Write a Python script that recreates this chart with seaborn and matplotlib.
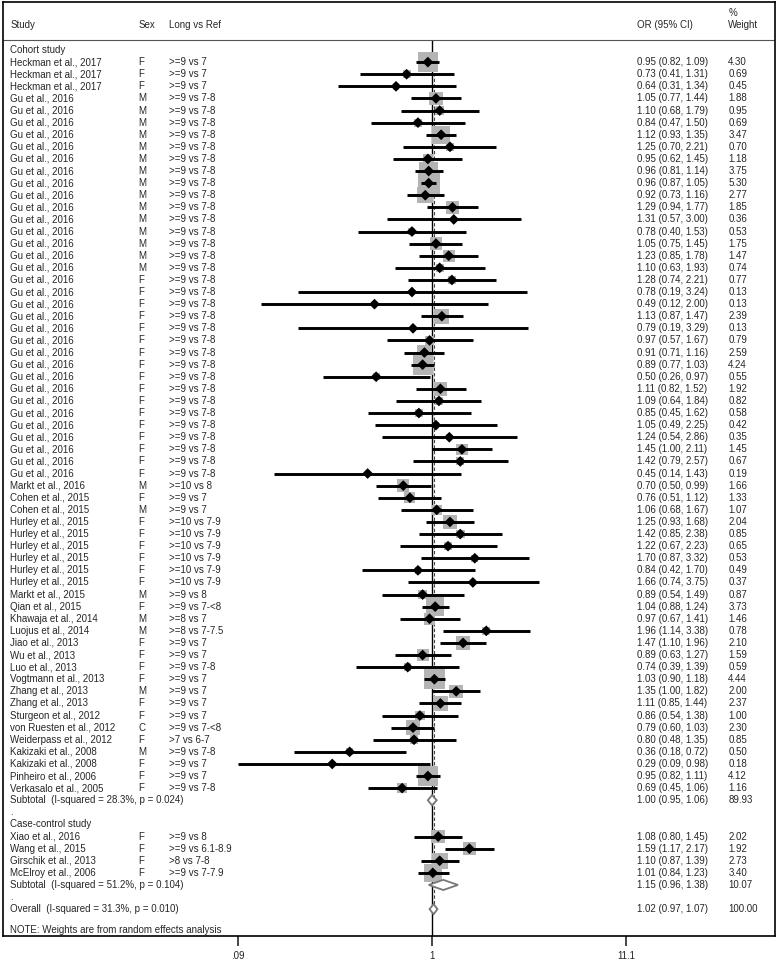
import numpy as np
import pandas as pd
import seaborn as sns
import matplotlib.pyplot as plt
import matplotlib.transforms as mtransforms

# -------------------------------
# Data: cohort studies
# -------------------------------
cohort_study = (["Heckman et al., 2017"] * 3 + ["Gu et al., 2016"] * 32 +
                ["Markt et al., 2016", "Cohen et al., 2015", "Cohen et al., 2015"] +
                ["Hurley et al., 2015"] * 6 +
                ["Markt et al., 2015", "Qian et al., 2015", "Khawaja et al., 2014",
                 "Luojus et al., 2014", "Jiao et al., 2013", "Wu et al., 2013",
                 "Luo et al., 2013", "Vogtmann et al., 2013", "Zhang et al., 2013",
                 "Zhang et al., 2013", "Sturgeon et al., 2012", "von Ruesten et al., 2012",
                 "Weiderpass et al., 2012", "Kakizaki et al., 2008", "Kakizaki et al., 2008",
                 "Pinheiro et al., 2006", "Verkasalo et al., 2005"])
cohort_sex = (["F"] * 3 + ["M"] * 15 + ["F"] * 17 +
              ["M", "F", "M", "F", "F", "F", "F", "F", "F", "M", "F", "M", "M",
               "F", "F", "F", "F", "M", "F", "F", "C", "F", "M", "F", "F", "F"])
cohort_comp = ([">=9 vs 7"] * 3 + [">=9 vs 7-8"] * 32 +
               [">=10 vs 8", ">=9 vs 7", ">=9 vs 7"] + [">=10 vs 7-9"] * 6 +
               [">=9 vs 8", ">=9 vs 7-<8", ">=8 vs 7", ">=8 vs 7-7.5", ">=9 vs 7",
                ">=9 vs 7", ">=9 vs 7-8", ">=9 vs 7", ">=9 vs 7", ">=9 vs 7", ">=9 vs 7",
                ">=9 vs 7-<8", ">7 vs 6-7", ">=9 vs 7-8", ">=9 vs 7", ">=9 vs 7",
                ">=9 vs 7-8"])
cohort_or = [0.95, 0.73, 0.64,
             1.05, 1.10, 0.84, 1.12, 1.25, 0.95, 0.96, 0.96, 0.92, 1.29, 1.31, 0.78,
             1.05, 1.23, 1.10,
             1.28, 0.78, 0.49, 1.13, 0.79, 0.97, 0.91, 0.89, 0.50, 1.11, 1.09, 0.85,
             1.05, 1.24, 1.45, 1.42, 0.45,
             0.70, 0.76, 1.06, 1.25, 1.42, 1.22, 1.70, 0.84, 1.66, 0.89, 1.04, 0.97,
             1.96, 1.47, 0.89, 0.74, 1.03, 1.35, 1.11, 0.86, 0.79, 0.80, 0.36, 0.29,
             0.95, 0.69]
cohort_lo = [0.82, 0.41, 0.31,
             0.77, 0.68, 0.47, 0.93, 0.70, 0.62, 0.81, 0.87, 0.73, 0.94, 0.57, 0.40,
             0.75, 0.85, 0.63,
             0.74, 0.19, 0.12, 0.87, 0.19, 0.57, 0.71, 0.77, 0.26, 0.82, 0.64, 0.45,
             0.49, 0.54, 1.00, 0.79, 0.14,
             0.50, 0.51, 0.68, 0.93, 0.85, 0.67, 0.87, 0.42, 0.74, 0.54, 0.88, 0.67,
             1.14, 1.10, 0.63, 0.39, 0.90, 1.00, 0.85, 0.54, 0.60, 0.48, 0.18, 0.09,
             0.82, 0.45]
cohort_hi = [1.09, 1.31, 1.34,
             1.44, 1.79, 1.50, 1.35, 2.21, 1.45, 1.14, 1.05, 1.16, 1.77, 3.00, 1.53,
             1.45, 1.78, 1.93,
             2.21, 3.24, 2.00, 1.47, 3.29, 1.67, 1.16, 1.03, 0.97, 1.52, 1.84, 1.62,
             2.25, 2.86, 2.11, 2.57, 1.43,
             0.99, 1.12, 1.67, 1.68, 2.38, 2.23, 3.32, 1.70, 3.75, 1.49, 1.24, 1.41,
             3.38, 1.96, 1.27, 1.39, 1.18, 1.82, 1.44, 1.38, 1.03, 1.35, 0.72, 0.98,
             1.11, 1.06]
cohort_w = [4.30, 0.69, 0.45,
            1.88, 0.95, 0.69, 3.47, 0.70, 1.18, 3.75, 5.30, 2.77, 1.85, 0.36, 0.53,
            1.75, 1.47, 0.74,
            0.77, 0.13, 0.13, 2.39, 0.13, 0.79, 2.59, 4.24, 0.55, 1.92, 0.82, 0.58,
            0.42, 0.35, 1.45, 0.67, 0.19,
            1.66, 1.33, 1.07, 2.04, 0.85, 0.65, 0.53, 0.49, 0.37, 0.87, 3.73, 1.46,
            0.78, 2.10, 1.59, 0.59, 4.44, 2.00, 2.37, 1.00, 2.30, 0.85, 0.50, 0.18,
            4.12, 1.16]

# -------------------------------
# Data: case-control studies
# -------------------------------
case_study = ["Xiao et al., 2016", "Wang et al., 2015", "Girschik et al., 2013",
              "McElroy et al., 2006"]
case_sex = ["F", "F", "F", "F"]
case_comp = [">=9 vs 8", ">=9 vs 6.1-8.9", ">8 vs 7-8", ">=9 vs 7-7.9"]
case_or = [1.08, 1.59, 1.10, 1.01]
case_lo = [0.80, 1.17, 0.87, 0.84]
case_hi = [1.45, 2.17, 1.39, 1.23]
case_w = [2.02, 1.92, 2.73, 3.40]

# pooled estimates: cohort subtotal, case-control subtotal, overall
pooled_label = ["Subtotal  (I-squared = 28.3%, p = 0.024)",
                "Subtotal  (I-squared = 51.2%, p = 0.104)",
                "Overall  (I-squared = 31.3%, p = 0.010)"]
pooled_or = [1.00, 1.15, 1.02]
pooled_lo = [0.95, 0.96, 0.97]
pooled_hi = [1.06, 1.38, 1.07]
pooled_w = [89.93, 10.07, 100.00]

tick_vals = [0.09, 1, 11.1]
tick_labels = [".09", "1", "11.1"]

# -------------------------------
# Build one table with a row index for each line
# -------------------------------
n_c = len(cohort_study)
cohort = pd.DataFrame({"study": cohort_study, "sex": cohort_sex, "comp": cohort_comp,
                       "or_": cohort_or, "lo": cohort_lo, "hi": cohort_hi, "w": cohort_w})
cohort["row"] = np.arange(1, n_c + 1)
case = pd.DataFrame({"study": case_study, "sex": case_sex, "comp": case_comp,
                     "or_": case_or, "lo": case_lo, "hi": case_hi, "w": case_w})
case["row"] = np.arange(n_c + 4, n_c + 4 + len(case))
studies = pd.concat([cohort, case], ignore_index=True)

pooled_rows = [n_c + 1, n_c + 4 + len(case), n_c + 6 + len(case)]
note_row = pooled_rows[2] + 1.7

# -------------------------------
# Plot
# -------------------------------
sns.set_style("white")
plt.rcParams["font.family"] = ["Liberation Sans", "DejaVu Sans"]
FS = 7.0

fig = plt.figure(figsize=(7.78, 9.60), dpi=100)
ax = fig.add_axes([3 / 778, 24 / 960, 772 / 778, 934 / 960])
ax.set_xscale("log")
ax.set_xlim(0.00488, 70.5)
ax.set_ylim(73.22, -3.97)

# reference lines
ax.vlines(1, -0.83, 73.22, color="black", lw=1.0, zorder=1)
ax.vlines(pooled_or[2], 0.5, pooled_rows[2], color="#444444", lw=0.8,
          linestyles=(0, (3, 2)), zorder=1)
ax.axhline(-0.83, color="#555555", lw=0.8)

# weight squares, CI lines and point estimates
sns.scatterplot(data=studies, x="or_", y="row", size="w", sizes=(0, 48.2 * 5.30),
                size_norm=(0, 5.30), marker="s", color="#b4b4b4", edgecolor="none",
                legend=False, ax=ax, zorder=2)
ax.hlines(studies["row"], studies["lo"], studies["hi"], color="black", lw=2.1, zorder=3)
sns.scatterplot(data=studies, x="or_", y="row", marker="D", s=30, color="black",
                edgecolor="none", legend=False, ax=ax, zorder=4)

# pooled diamonds
for r, o, l, h in zip(pooled_rows, pooled_or, pooled_lo, pooled_hi):
    ax.fill([l, o, h, o, l], [r, r - 0.42, r, r + 0.42, r], facecolor="white",
            edgecolor="#777777", lw=1.3, zorder=5)

# text columns
tr = mtransforms.blended_transform_factory(ax.transAxes, ax.transData)
x_study, x_sex, x_comp, x_or, x_w = 0.0095, 0.175, 0.2155, 0.8215, 0.9395

ax.text(x_study, -2.07, "Study", transform=tr, fontsize=FS, va="center")
ax.text(x_sex, -2.07, "Sex", transform=tr, fontsize=FS, va="center")
ax.text(x_comp, -2.07, "Long vs Ref", transform=tr, fontsize=FS, va="center")
ax.text(x_or, -2.07, "OR (95% CI)", transform=tr, fontsize=FS, va="center")
ax.text(x_w, -3.06, "%", transform=tr, fontsize=FS, va="center")
ax.text(x_w, -2.07, "Weight", transform=tr, fontsize=FS, va="center")

ax.text(x_study, 0, "Cohort study", transform=tr, fontsize=FS, va="center")
ax.text(x_study, n_c + 3, "Case-control study", transform=tr, fontsize=FS, va="center")
ax.text(x_study, n_c + 2, ".", transform=tr, fontsize=FS, va="center")
ax.text(x_study, pooled_rows[1] + 1, ".", transform=tr, fontsize=FS, va="center")

for _, s in studies.iterrows():
    ax.text(x_study, s["row"], s["study"], transform=tr, fontsize=FS, va="center")
    ax.text(x_sex, s["row"], s["sex"], transform=tr, fontsize=FS, va="center")
    ax.text(x_comp, s["row"], s["comp"], transform=tr, fontsize=FS, va="center")
    ax.text(x_or, s["row"], f"{s['or_']:.2f} ({s['lo']:.2f}, {s['hi']:.2f})",
            transform=tr, fontsize=FS, va="center")
    ax.text(x_w, s["row"], f"{s['w']:.2f}", transform=tr, fontsize=FS, va="center")

for r, lab, o, l, h, w in zip(pooled_rows, pooled_label, pooled_or, pooled_lo,
                              pooled_hi, pooled_w):
    ax.text(x_study, r, lab, transform=tr, fontsize=FS, va="center")
    ax.text(x_or, r, f"{o:.2f} ({l:.2f}, {h:.2f})", transform=tr, fontsize=FS, va="center")
    ax.text(x_w, r, f"{w:.2f}", transform=tr, fontsize=FS, va="center")

ax.text(x_study, note_row, "NOTE: Weights are from random effects analysis",
        transform=tr, fontsize=FS, va="center")

# axes styling
ax.set_xticks(tick_vals)
ax.set_xticklabels(tick_labels)
ax.xaxis.set_minor_locator(plt.NullLocator())
ax.tick_params(axis="x", direction="out", length=7, width=1.2, pad=4, labelsize=FS,
               bottom=True)
ax.set_yticks([])
ax.set_xlabel("")
ax.set_ylabel("")
for sp in ax.spines.values():
    sp.set_visible(True)
    sp.set_color("black")
    sp.set_linewidth(1.2)

plt.savefig("out.png", dpi=100)
